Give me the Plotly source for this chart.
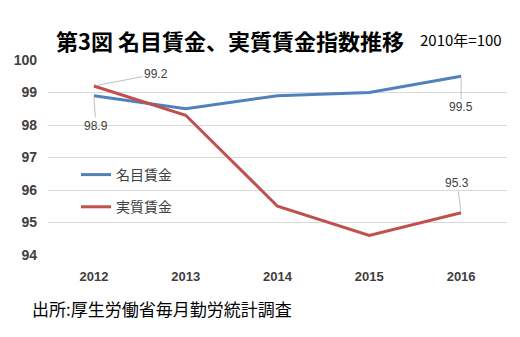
import plotly.graph_objects as go

years = ["2012", "2013", "2014", "2015", "2016"]
nominal = [98.9, 98.5, 98.9, 99.0, 99.5]
real = [99.2, 98.3, 95.5, 94.6, 95.3]
y_ticks = [94, 95, 96, 97, 98, 99, 100]

JP = "Noto Sans CJK JP"
TOP, BOT, LEFT, RIGHT = 60, 255, 48, 507
H = BOT - TOP
W = RIGHT - LEFT

def px(x):
    return (x - LEFT) / W

def py(y):
    return (BOT - y) / H

fig = go.Figure()
fig.add_trace(go.Scatter(x=years, y=nominal, mode="lines", name="名目賃金", legendgroup="a",
                         line=dict(color="#4F81BD", width=3)))
fig.add_trace(go.Scatter(x=years, y=real, mode="lines", name="実質賃金", legendgroup="b",
                         line=dict(color="#C0504D", width=3)))

annots = []

def lab(i, yv, ax, ay):
    annots.append(dict(x=i, y=yv, xref="x", yref="y", text=str(yv),
                       showarrow=True, arrowhead=0, arrowwidth=0.7, arrowcolor="#A6A6A6",
                       ax=ax, ay=ay, axref="pixel", ayref="pixel", standoff=2,
                       font=dict(family="Liberation Sans", size=12, color="#404040")))

lab(0, real[0], 62, -12)
lab(0, nominal[0], 2, 30)
lab(4, nominal[4], 0, 31)
lab(4, real[4], -4, -30)

annots.append(dict(xref="paper", yref="paper", x=px(230), y=py(40), xanchor="center", yanchor="middle",
                   text="<b>第3図 名目賃金、実質賃金指数推移</b>", showarrow=False,
                   font=dict(family=JP, size=22, color="#000000")))
annots.append(dict(xref="paper", yref="paper", x=px(461), y=py(40), xanchor="center", yanchor="middle",
                   text="2010年=100", showarrow=False,
                   font=dict(family=JP, size=15, color="#000000")))
annots.append(dict(xref="paper", yref="paper", x=px(30), y=py(308), xanchor="left", yanchor="middle",
                   text="出所:厚生労働省毎月勤労統計調査", showarrow=False,
                   font=dict(family=JP, size=17, color="#000000")))

fig.update_layout(
    width=520, height=337,
    margin=dict(l=LEFT, r=520 - RIGHT, t=TOP, b=337 - BOT, autoexpand=False),
    paper_bgcolor="white", plot_bgcolor="white",
    annotations=annots,
    showlegend=True,
    legend=dict(x=px(76), y=py(159), xanchor="left", yanchor="top",
                font=dict(family=JP, size=14, color="#404040"),
                bgcolor="rgba(0,0,0,0)", tracegroupgap=11),
    xaxis=dict(type="category", range=[-0.5, 4.5], showgrid=False, zeroline=False,
               showline=False, ticks="", ticklabelstandoff=12,
               tickfont=dict(family="Liberation Sans", size=13, color="#404040", weight="bold")),
    yaxis=dict(range=[94, 100], tickvals=y_ticks, showgrid=True, gridcolor="#D9D9D9",
               gridwidth=1, zeroline=False, showline=False, ticks="", ticklabelstandoff=10,
               tickfont=dict(family="Liberation Sans", size=14, color="#404040", weight="bold")),
)
fig.write_html("out.html")
